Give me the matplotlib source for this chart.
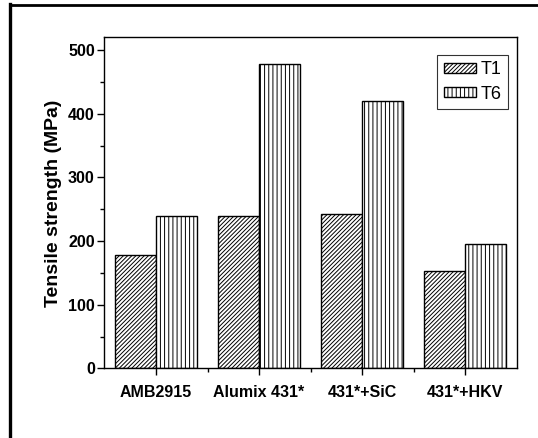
import matplotlib
matplotlib.use("Agg")
import matplotlib.pyplot as plt
import numpy as np
from matplotlib.lines import Line2D
from matplotlib.ticker import MultipleLocator, FixedLocator

categories = ["AMB2915", "Alumix 431*", "431*+SiC", "431*+HKV"]
t1_values = [178, 240, 242, 153]
t6_values = [240, 478, 420, 196]
series_names = ["T1", "T6"]
yticks = [0, 100, 200, 300, 400, 500]

plt.rcParams['font.family'] = ['Liberation Sans', 'DejaVu Sans']
plt.rcParams['hatch.linewidth'] = 0.7

fig = plt.figure(figsize=(5.38, 4.38), dpi=100)
ax = fig.add_axes([0.1942, 0.1587, 0.7662, 0.7562])

x = np.arange(len(categories))
w = 0.4
ax.bar(x - w / 2, t1_values, w, facecolor='white', edgecolor='black',
       hatch='////////', linewidth=1.0, label=series_names[0])
ax.bar(x + w / 2, t6_values, w, facecolor='white', edgecolor='black',
       hatch='||||', linewidth=1.0, label=series_names[1])

ax.set_xlim(-0.5, 3.5)
ax.set_ylim(0, 520)
ax.set_xticks(x)
ax.set_xticklabels(categories, fontsize=11.5, fontweight='bold')
ax.xaxis.set_minor_locator(FixedLocator(x[:-1] + 0.5))
ax.set_yticks(yticks)
ax.set_yticklabels([str(v) for v in yticks], fontsize=11.5, fontweight='bold')
ax.yaxis.set_minor_locator(MultipleLocator(50))
ax.tick_params(axis='both', which='major', direction='out', length=5, width=1, pad=2)
ax.tick_params(axis='both', which='minor', direction='out', length=3, width=1)
ax.tick_params(axis='x', which='major', pad=7)
ax.set_ylabel("Tensile strength (MPa)", fontsize=14, fontweight='bold', labelpad=4)
for s in ax.spines.values():
    s.set_linewidth(1.0)

leg = ax.legend(loc='upper right', bbox_to_anchor=(0.979, 0.946), fontsize=13,
                frameon=True, fancybox=False, edgecolor='black',
                handlelength=1.8, handleheight=0.5, handletextpad=0.25,
                borderpad=0.35, labelspacing=0.4, borderaxespad=0)
leg.get_frame().set_linewidth(0.8)

# figure frame (left and top edges)
fig.add_artist(Line2D([10 / 538, 10 / 538], [0, 1 - 4 / 438], transform=fig.transFigure,
                      color='black', linewidth=2.4, solid_capstyle='projecting'))
fig.add_artist(Line2D([10 / 538, 1], [1 - 5 / 438, 1 - 5 / 438], transform=fig.transFigure,
                      color='black', linewidth=2.0, solid_capstyle='projecting'))

fig.savefig("out.png", dpi=100)
